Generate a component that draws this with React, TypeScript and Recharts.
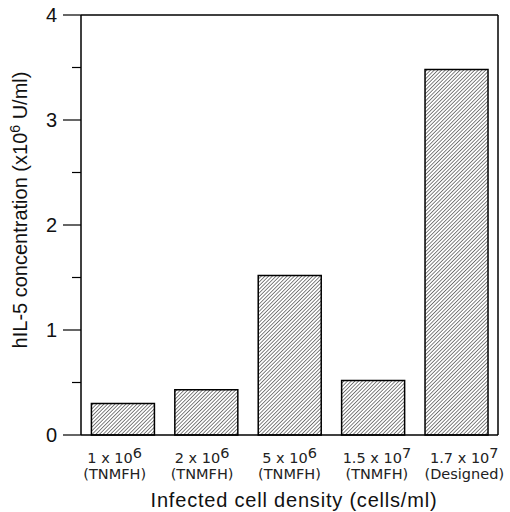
import { BarChart, Bar, XAxis, YAxis, ReferenceLine, Label } from 'recharts';

const coeffs = ['1', '2', '5', '1.5', '1.7'];
const exponents = ['6', '6', '6', '7', '7'];
const media = ['(TNMFH)', '(TNMFH)', '(TNMFH)', '(TNMFH)', '(Designed)'];
const values = [0.3, 0.43, 1.52, 0.52, 3.48];
const yTicks = [0, 0.5, 1, 1.5, 2, 2.5, 3, 3.5, 4];

const data = coeffs.map((c, i) => ({ key: `${c}e${exponents[i]}`, value: values[i] }));

const YTick = (props: any) => {
  const { x, y, payload } = props;
  const major = Number.isInteger(payload.value);
  return (
    <g>
      <line x1={x - (major ? 18 : 9)} x2={x} y1={y} y2={y} stroke="#000" strokeWidth={1.2} />
      {major && (
        <text x={x - 24} y={y + 7} textAnchor="end" fontSize={20} fontFamily="Liberation Sans, Arial, sans-serif" fill="#111">
          {payload.value}
        </text>
      )}
    </g>
  );
};

// labels in the original sit slightly spread out relative to the bars
const XTick = (props: any) => {
  const { x, y, index } = props;
  const cx = x + (index - 2) * 4;
  return (
    <g fontFamily="DejaVu Sans, sans-serif" fill="#222">
      <text x={cx} y={y + 20} textAnchor="middle" fontSize={14.5}>
        {coeffs[index]} x 10
        <tspan dy={-5}>{exponents[index]}</tspan>
      </text>
      <text x={cx} y={y + 36} textAnchor="middle" fontSize={14.5}>
        {media[index]}
      </text>
    </g>
  );
};

export default function App() {
  return (
    <div style={{ position: 'absolute', left: 0, top: 0, background: '#fff' }}>
      <BarChart width={510} height={512} data={data} margin={{ top: 15, right: 0, bottom: 0, left: 0 }} barCategoryGap="12.5%">
        <defs>
          <pattern id="hatch" width={2.6} height={2.6} patternUnits="userSpaceOnUse" patternTransform="rotate(45)">
            <line x1={0} y1={0} x2={0} y2={2.6} stroke="#1a1a1a" strokeWidth={1.1} />
          </pattern>
        </defs>
        <XAxis
          dataKey="key"
          height={77}
          axisLine={{ stroke: '#000', strokeWidth: 1.5 }}
          tickLine={false}
          tick={<XTick />}
          interval={0}
        >
          <Label
            content={() => (
              <text x={294} y={507} textAnchor="middle" fontSize={20} letterSpacing={0.8} fontFamily="Liberation Sans, Arial, sans-serif" fill="#111">
                Infected cell density (cells/ml)
              </text>
            )}
          />
        </XAxis>
        <YAxis
          width={81}
          domain={[0, 4]}
          ticks={yTicks}
          interval={0}
          tickSize={0}
          tickMargin={0}
          tickLine={false}
          axisLine={{ stroke: '#000', strokeWidth: 1.5 }}
          tick={<YTick />}
        >
          <Label
            content={() => (
              <text
                x={27}
                y={210}
                transform="rotate(-90 27 210)"
                textAnchor="middle"
                fontSize={20}
                fontFamily="Liberation Sans, Arial, sans-serif"
                fill="#111"
              >
                hIL-5 concentration (x10
                <tspan dy={-7} fontSize={14}>6</tspan>
                <tspan dy={7}> U/ml)</tspan>
              </text>
            )}
          />
        </YAxis>
        <YAxis yAxisId="r" orientation="right" width={12} domain={[0, 4]} tick={false} tickLine={false} axisLine={{ stroke: '#000', strokeWidth: 1.5 }} />
        <ReferenceLine y={4} stroke="#000" strokeWidth={1.5} />
        <Bar dataKey="value" fill="url(#hatch)" stroke="#000" strokeWidth={1.5} isAnimationActive={false} />
      </BarChart>
    </div>
  );
}
